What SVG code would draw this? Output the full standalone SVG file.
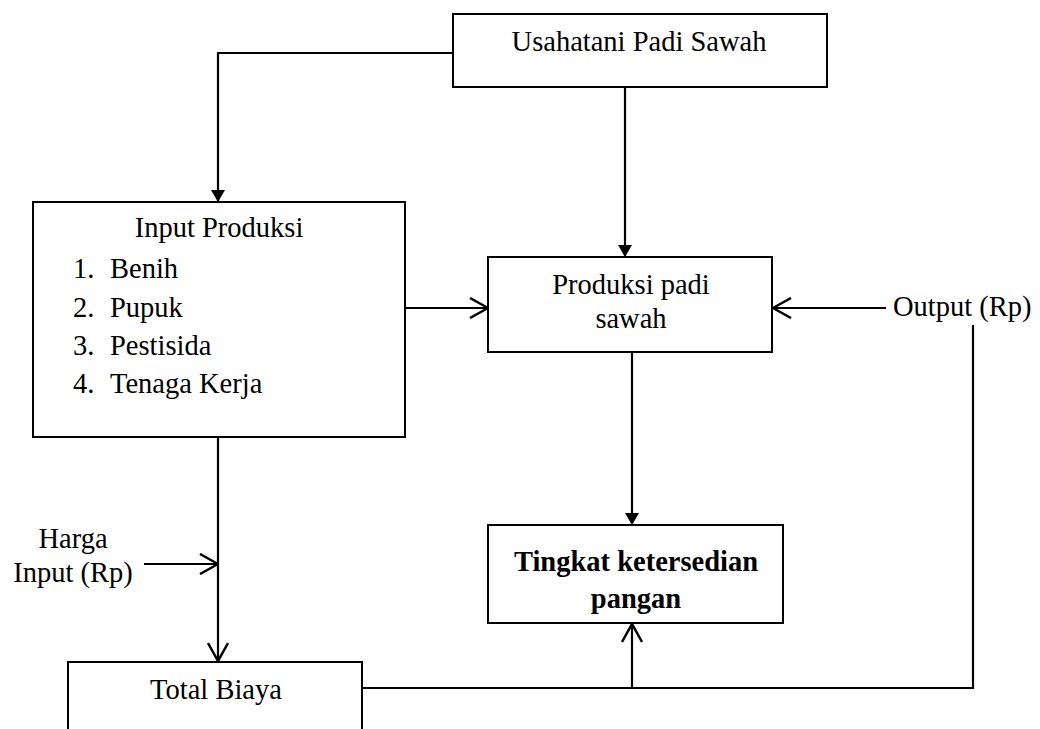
<svg xmlns="http://www.w3.org/2000/svg" width="1040" height="729" viewBox="0 0 1040 729">
<style>
.box{fill:#fff;stroke:#000;stroke-width:2}
.ln{fill:none;stroke:#000;stroke-width:2.2}
.t{font-family:'Liberation Serif','DejaVu Serif',serif;font-size:28.5px;fill:#000}
.c{text-anchor:middle}
.b{font-weight:bold}
</style>
<defs>
<marker id="fill" viewBox="0 0 12 14" refX="12" refY="7" markerWidth="12" markerHeight="14" markerUnits="userSpaceOnUse" orient="auto">
<path d="M0,0 L12,7 L0,14 z" fill="#000"/>
</marker>
<marker id="open" viewBox="0 0 20 22" refX="19" refY="11" markerWidth="20" markerHeight="22" markerUnits="userSpaceOnUse" orient="auto">
<path d="M1,1 L19,11 L1,21" fill="none" stroke="#000" stroke-width="2.5"/>
</marker>
</defs>
<rect width="1040" height="729" fill="#fff"/>
<g id="connectors">
<path class="ln" d="M453,53 H218 V202" marker-end="url(#fill)"/>
<path class="ln" d="M625,87 V257" marker-end="url(#fill)"/>
<path class="ln" d="M405,308 H488" marker-end="url(#open)"/>
<path class="ln" d="M886,308 H773" marker-end="url(#open)"/>
<path class="ln" d="M632,352 V525" marker-end="url(#fill)"/>
<path class="ln" d="M218,437 V661" marker-end="url(#open)"/>
<path class="ln" d="M144,564 H218" marker-end="url(#open)"/>
<path class="ln" d="M362,688 H973 V325"/>
<path class="ln" d="M632,688 V624" marker-end="url(#open)"/>
</g>
<g class="t" font-family="Liberation Serif, serif">
<g id="usahatani">
<rect class="box" x="453" y="14" width="374" height="73"/>
<text class="c" x="639" y="51">Usahatani Padi Sawah</text>
</g>
<g id="input-produksi">
<rect class="box" x="33" y="202" width="372" height="235"/>
<text class="c" x="219" y="237">Input Produksi</text>
<text x="73" y="278">1.</text><text x="110" y="278">Benih</text>
<text x="73" y="317">2.</text><text x="110" y="317">Pupuk</text>
<text x="73" y="355">3.</text><text x="110" y="355">Pestisida</text>
<text x="73" y="393">4.</text><text x="110" y="393">Tenaga Kerja</text>
</g>
<g id="produksi-padi">
<rect class="box" x="488" y="257" width="284" height="95"/>
<text class="c" x="631" y="294">Produksi padi</text>
<text class="c" x="631" y="328">sawah</text>
</g>
<g id="output">
<text x="893" y="316">Output (Rp)</text>
</g>
<g id="tingkat">
<rect class="box" x="488" y="525" width="295" height="98"/>
<text class="c b" x="636" y="571">Tingkat ketersedian</text>
<text class="c b" x="636" y="608">pangan</text>
</g>
<g id="harga-input">
<text class="c" x="73" y="548">Harga</text>
<text class="c" x="73" y="582">Input (Rp)</text>
</g>
<g id="total-biaya">
<rect class="box" x="68" y="662" width="294" height="100"/>
<text class="c" x="216" y="699">Total Biaya</text>
</g>
</g>
</svg>
